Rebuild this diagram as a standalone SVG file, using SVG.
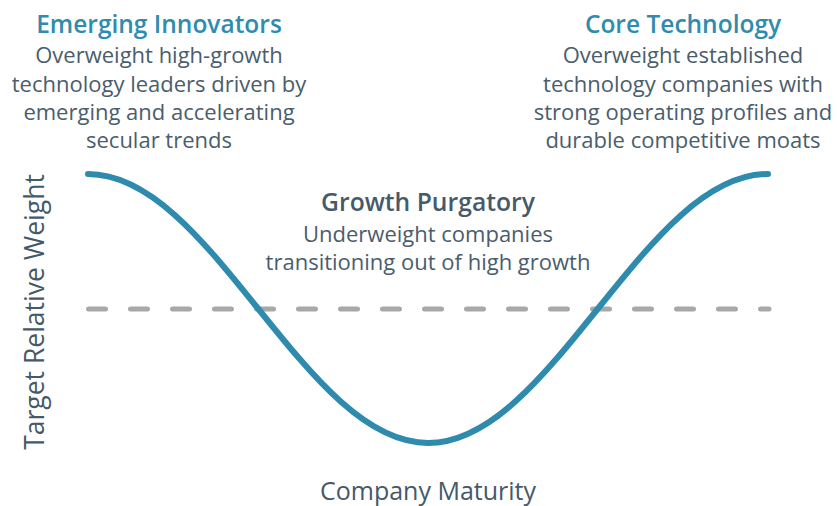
<svg xmlns="http://www.w3.org/2000/svg" width="837" height="506" viewBox="0 0 837 506">
<style>
.title{font-family:"Open Sans","Noto Sans",sans-serif;font-weight:600;font-size:24.5px;fill:#2F8CAE;text-anchor:middle}
.title2{font-family:"Open Sans","Noto Sans",sans-serif;font-weight:600;font-size:24.7px;fill:#465A6A;text-anchor:middle}
.body{font-family:"Open Sans","Noto Sans",sans-serif;font-size:22px;fill:#4A5D6C;text-anchor:middle}
.axis{font-family:"Open Sans","Noto Sans",sans-serif;font-size:25px;fill:#455968;text-anchor:middle}
.yaxis{font-family:"Open Sans","Noto Sans",sans-serif;font-size:26.5px;fill:#455968;text-anchor:middle}
</style>
<rect width="837" height="506" fill="#ffffff"/>
<g id="chart">
<line x1="88.5" y1="309" x2="769" y2="309" stroke="#A8A8A8" stroke-width="5" stroke-linecap="round" stroke-dasharray="17 25"/>
<path d="M88,174 C149.5,174 202.6,239.6 258,308.5 C313.4,377.4 366.5,443 428,443 C489.5,443 542.6,377.4 598,308.5 C653.4,239.6 706.5,174 768,174" fill="none" stroke="#2E8BAD" stroke-width="6" stroke-linecap="round"/>
</g>
<g id="emerging-innovators">
<text class="title" x="159" y="33">Emerging Innovators</text>
<text class="body" x="159" y="63">Overweight high-growth</text>
<text class="body" x="159" y="92">technology leaders driven by</text>
<text class="body" x="159" y="120">emerging and accelerating</text>
<text class="body" x="159" y="148">secular trends</text>
</g>
<g id="core-technology">
<text class="title" x="683" y="33">Core Technology</text>
<text class="body" x="683" y="63">Overweight established</text>
<text class="body" x="683" y="92">technology companies with</text>
<text class="body" x="683" y="120">strong operating profiles and</text>
<text class="body" x="683" y="148">durable competitive moats</text>
</g>
<g id="growth-purgatory">
<text class="title2" x="428" y="211">Growth Purgatory</text>
<text class="body" x="428" y="242">Underweight companies</text>
<text class="body" x="428" y="270">transitioning out of high growth</text>
</g>
<g id="axes">
<text class="yaxis" transform="translate(44,312) rotate(-90)">Target Relative Weight</text>
<text class="axis" x="428" y="500">Company Maturity</text>
</g>
</svg>
